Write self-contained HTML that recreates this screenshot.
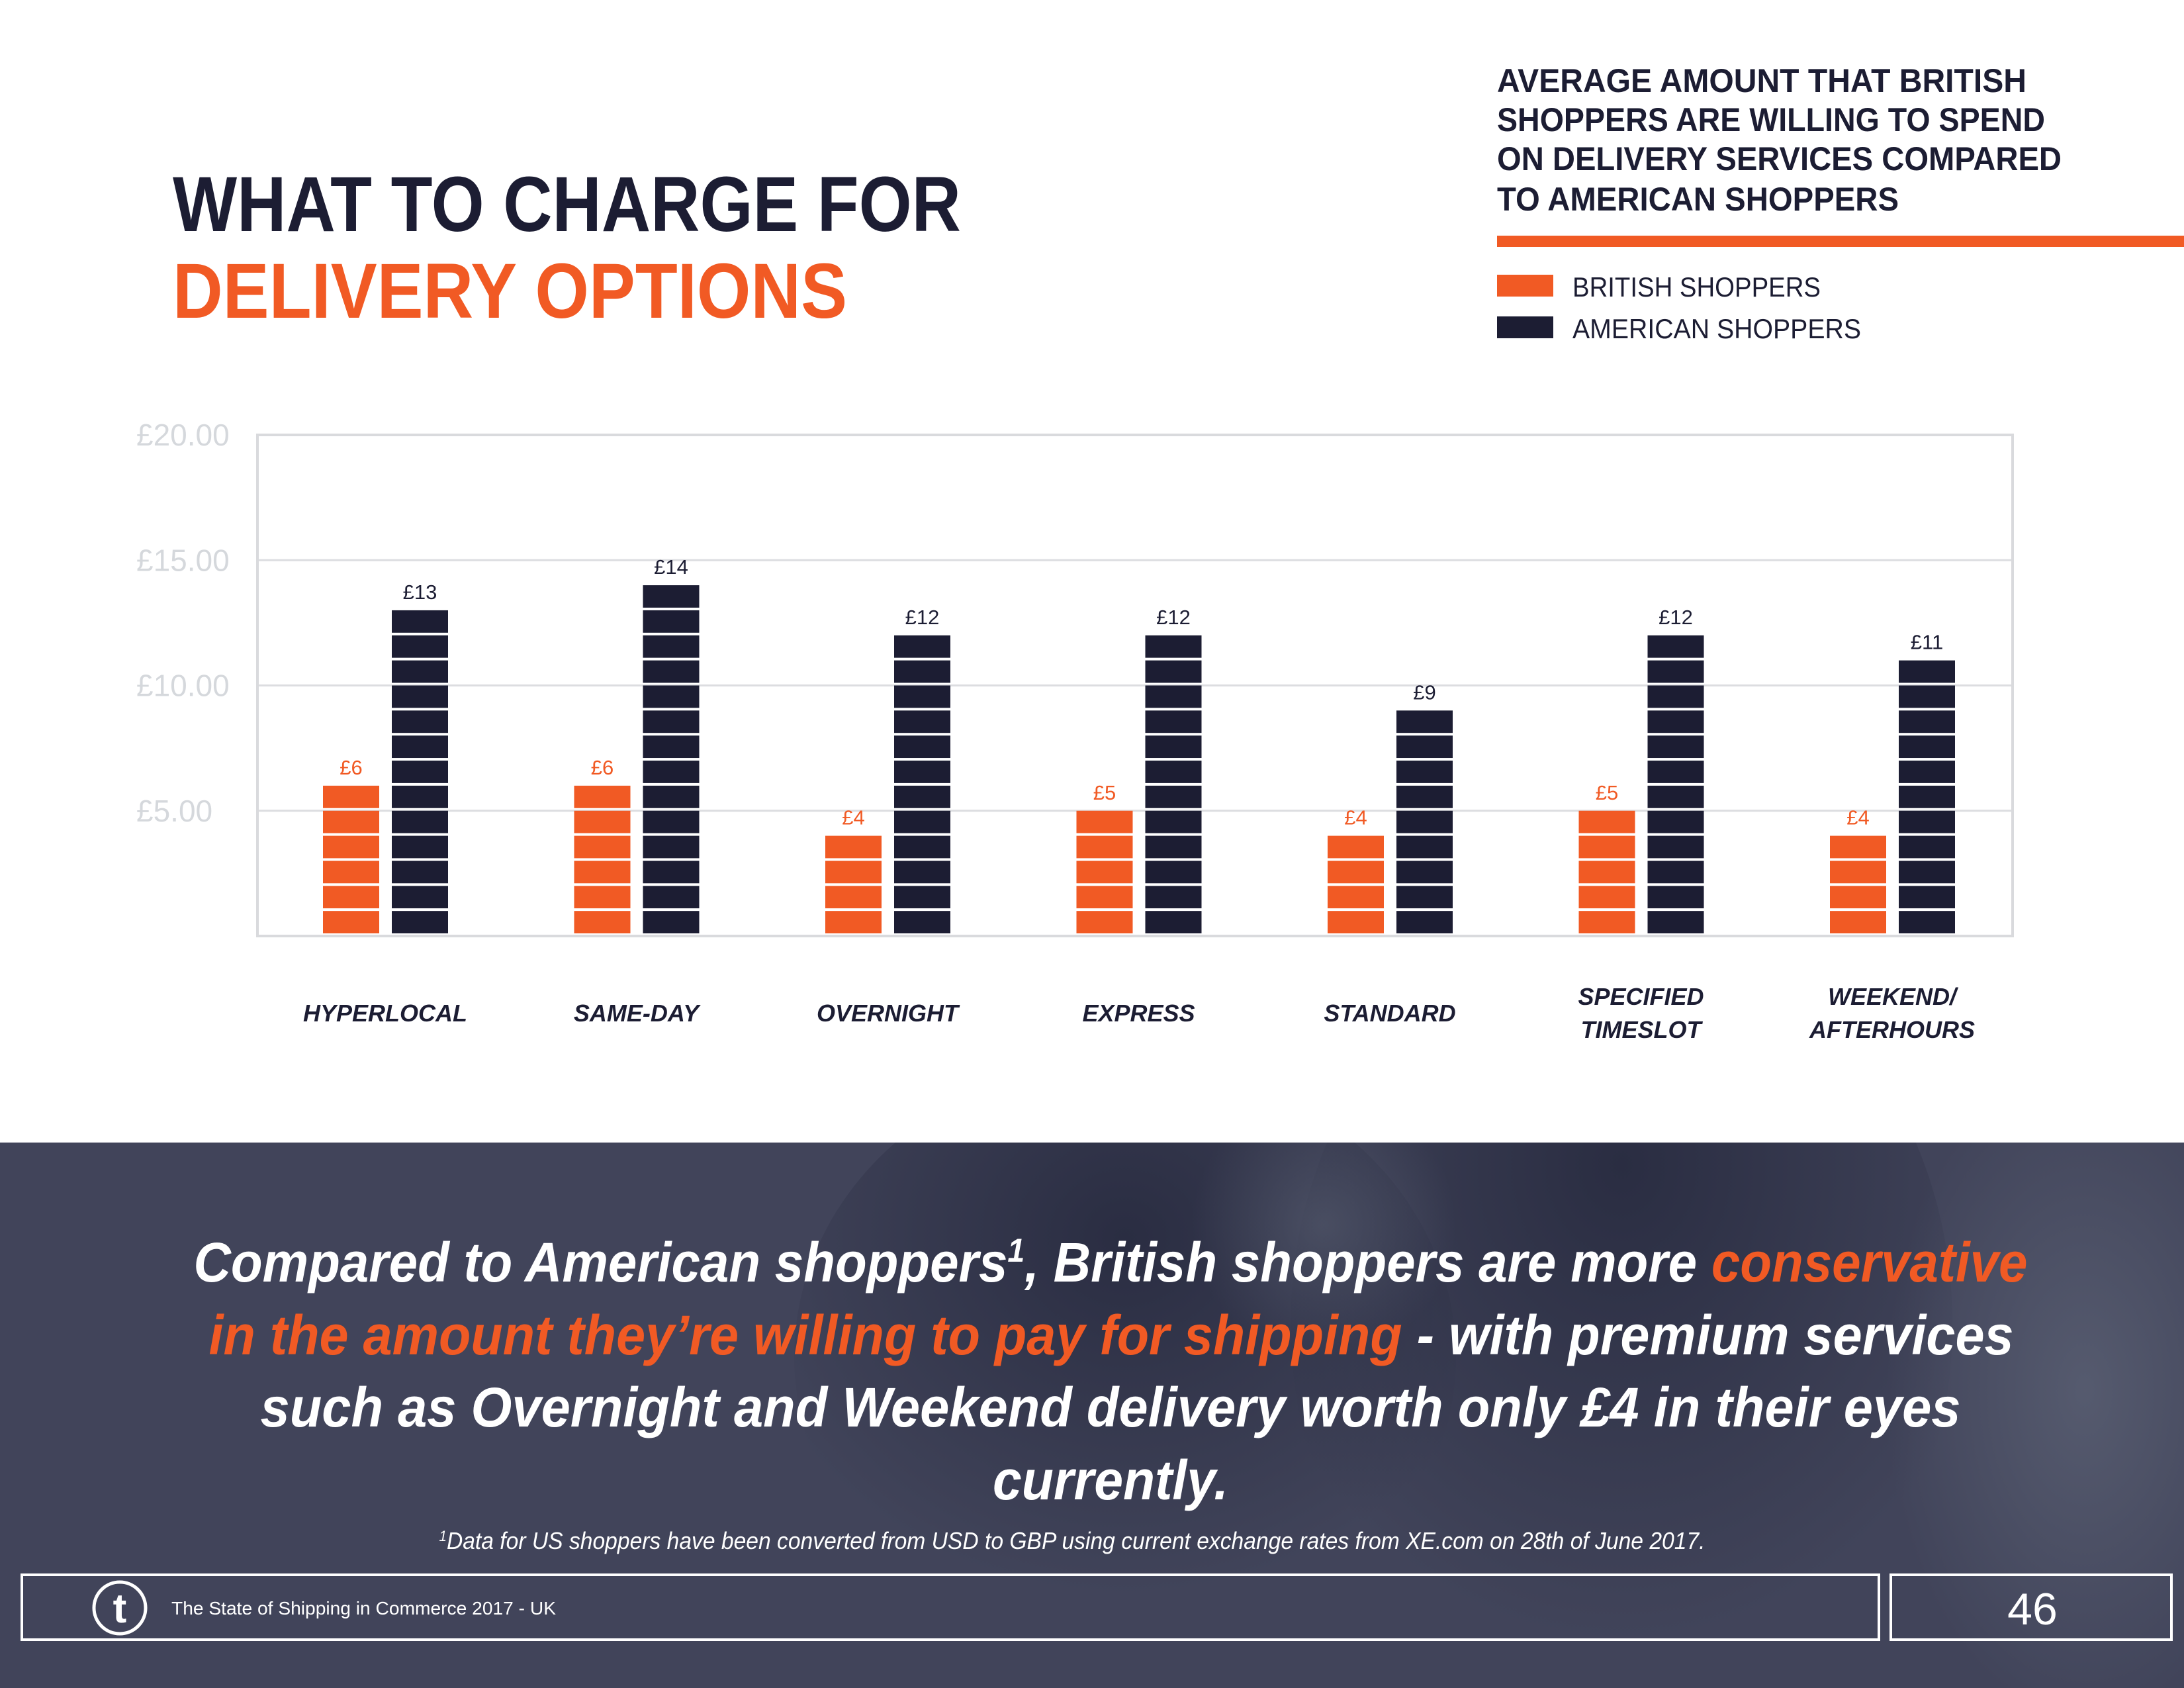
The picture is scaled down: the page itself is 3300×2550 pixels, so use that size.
<!DOCTYPE html>
<html><head><meta charset="utf-8"><style>
html,body{margin:0;padding:0;width:3300px;height:2550px;overflow:hidden;background:#fff}
svg{display:block}
text{font-family:"Liberation Sans",sans-serif}
</style></head><body>
<svg id="page" width="3300" height="2550" viewBox="0 0 3300 2550">
<defs>
<radialGradient id="g1" cx="0.5" cy="0.3" r="0.6"><stop offset="0" stop-color="#2a2d42"/><stop offset="1" stop-color="#2a2d42" stop-opacity="0"/></radialGradient>
<radialGradient id="g2" cx="0.5" cy="0.5" r="0.5"><stop offset="0" stop-color="#6a7183"/><stop offset="1" stop-color="#6a7183" stop-opacity="0"/></radialGradient>
<clipPath id="panelClip"><rect x="0" y="1726" width="3300" height="824"/></clipPath>
</defs>
<g>
<text x="261" y="349" font-size="118" font-weight="bold" fill="#1c1d33" textLength="1191" lengthAdjust="spacingAndGlyphs">WHAT TO CHARGE FOR</text>
<text x="261" y="480" font-size="118" font-weight="bold" fill="#f15a24" textLength="1019" lengthAdjust="spacingAndGlyphs">DELIVERY OPTIONS</text>
<g font-size="50" font-weight="bold" fill="#1c1d33">
<text x="2262" y="139" textLength="800" lengthAdjust="spacingAndGlyphs">AVERAGE AMOUNT THAT BRITISH</text>
<text x="2262" y="198" textLength="828" lengthAdjust="spacingAndGlyphs">SHOPPERS ARE WILLING TO SPEND</text>
<text x="2262" y="257" textLength="853" lengthAdjust="spacingAndGlyphs">ON DELIVERY SERVICES COMPARED</text>
<text x="2262" y="318" textLength="607" lengthAdjust="spacingAndGlyphs">TO AMERICAN SHOPPERS</text>
</g>
<rect x="2262" y="356" width="1038" height="17" fill="#f15a24"/>
<g>
<rect x="2262" y="415" width="85" height="33" fill="#f15a24"/>
<text x="2376" y="448" font-size="42" fill="#1c1d33" textLength="375" lengthAdjust="spacingAndGlyphs">BRITISH SHOPPERS</text>
<rect x="2262" y="478" width="85" height="33" fill="#1c1d33"/>
<text x="2376" y="511" font-size="42" fill="#1c1d33" textLength="436" lengthAdjust="spacingAndGlyphs">AMERICAN SHOPPERS</text>
</g>
</g>
<g id="chart"></g>
<g>
<g clip-path="url(#panelClip)">
<rect x="0" y="1726" width="3300" height="824" fill="#41445a"/>
<ellipse cx="1700" cy="2050" rx="500" ry="450" fill="url(#g1)"/>
<ellipse cx="2450" cy="2000" rx="500" ry="600" fill="url(#g1)"/>
<ellipse cx="3150" cy="2100" rx="300" ry="500" fill="url(#g2)" opacity="0.5"/>
<ellipse cx="2000" cy="1850" rx="200" ry="200" fill="url(#g2)" opacity="0.4"/>
</g>
<g font-size="84" font-style="italic" font-weight="bold" fill="#fff" text-anchor="middle">
<text x="1678" y="1936" textLength="2771" lengthAdjust="spacingAndGlyphs">Compared to American shoppers<tspan font-size="50" dy="-30">1</tspan><tspan dy="30">, British shoppers are more </tspan><tspan fill="#f15a24">conservative</tspan></text>
<text x="1679" y="2046" textLength="2727" lengthAdjust="spacingAndGlyphs"><tspan fill="#f15a24">in the amount they’re willing to pay for shipping</tspan> - with premium services</text>
<text x="1678" y="2155" textLength="2569" lengthAdjust="spacingAndGlyphs">such as Overnight and Weekend delivery worth only £4 in their eyes</text>
<text x="1678" y="2265" textLength="356" lengthAdjust="spacingAndGlyphs">currently.</text>
</g>
<text x="1620" y="2340" text-anchor="middle" font-size="36" font-style="italic" fill="#fff" textLength="1913" lengthAdjust="spacingAndGlyphs"><tspan font-size="22" dy="-12">1</tspan><tspan dy="12">Data for US shoppers have been converted from USD to GBP using current exchange rates from XE.com on 28th of June 2017.</tspan></text>
<rect x="33" y="2379" width="2806" height="98" fill="none" stroke="#fff" stroke-width="4"/>
<rect x="2857" y="2379" width="424" height="98" fill="none" stroke="#fff" stroke-width="4"/>
<circle cx="181" cy="2429" r="39" fill="none" stroke="#fff" stroke-width="5"/>
<text x="181" y="2451" text-anchor="middle" font-size="62" font-weight="bold" fill="#fff">t</text>
<text x="259" y="2439" font-size="28" fill="#fff" textLength="581" lengthAdjust="spacingAndGlyphs">The State of Shipping in Commerce 2017 - UK</text>
<text x="3071" y="2454" text-anchor="middle" font-size="68" fill="#fff">46</text>
</g>
</svg>
<script>
const categories = [["HYPERLOCAL"],["SAME-DAY"],["OVERNIGHT"],["EXPRESS"],["STANDARD"],["SPECIFIED","TIMESLOT"],["WEEKEND/","AFTERHOURS"]];
const britishValues = [6,6,4,5,4,5,4];
const americanValues = [13,14,12,12,9,12,11];
const yTicks = [5,10,15,20];
const yTickLabels = ["£5.00","£10.00","£15.00","£20.00"];

const NS = "http://www.w3.org/2000/svg";
const chart = document.getElementById('chart');
const L = 389, R = 3041, T = 657, B = 1414, YMAX = 20;
const y = v => B - (B - T) * v / YMAX;
const cx = i => 582 + i * 379.5;
function mk(tag, attrs, parent) {
  const e = document.createElementNS(NS, tag);
  for (const k in attrs) e.setAttribute(k, attrs[k]);
  (parent || chart).appendChild(e);
  return e;
}
yTicks.forEach((t, i) => {
  const g = mk('line', {x1: L, x2: R, y1: y(t), y2: y(t), stroke: '#dcdde0', 'stroke-width': 3});
  
  
  const lb = mk('text', {x: 206, y: y(t) + 16, 'font-size': 46, fill: '#d5d8dc'});
  
  
  lb.textContent = yTickLabels[i];
});
const frame = mk('rect', {x: L, y: T, width: R - L, height: B - T, fill: 'none', stroke: '#d9dadd', 'stroke-width': 4});



function drawBar(x, v, color, name, labelColor) {
  const g = mk('g', {});
  
  
  const w = 85;
  for (let k = 0; k < Math.ceil(v); k++) {
    const top = y(Math.min(k + 1, v)), bot = y(k);
    mk('rect', {x: x, y: top, width: w, height: Math.max(0, bot - top - 4), fill: color}, g);
  }
  const t = mk('text', {x: x + w / 2, y: y(v) - 17, 'text-anchor': 'middle', 'font-size': 31, fill: labelColor}, g);
  
  
  t.textContent = '£' + v;
}
categories.forEach((c, i) => {
  drawBar(cx(i) - 94, britishValues[i], '#f15a24', 'bar-british-' + i, '#f15a24');
  drawBar(cx(i) + 10, americanValues[i], '#1c1d33', 'bar-american-' + i, '#1c1d33');
  const lbl = mk('text', {x: cx(i), 'text-anchor': 'middle', 'font-size': 36, 'font-weight': 'bold', 'font-style': 'italic', fill: '#1c1d33'});
  
  
  const y0 = c.length === 1 ? 1543 : 1518;
  c.forEach((line, j) => {
    const ts = mk('tspan', {x: cx(i), y: y0 + j * 50}, lbl);
    ts.textContent = line;
  });
});
</script>
</body></html>
